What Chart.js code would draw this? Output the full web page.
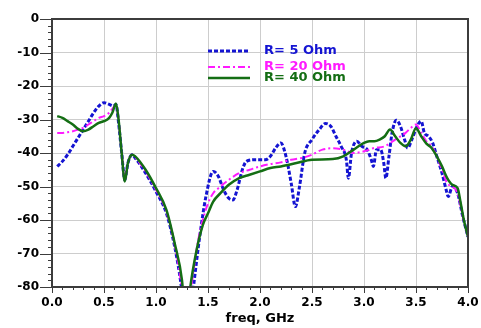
<!DOCTYPE html>
<html>
<head>
<meta charset="utf-8">
<script src="https://cdn.jsdelivr.net/npm/chart.js@4"></script>
<style>
  html, body { margin: 0; padding: 0; background: #fff; }
  #wrap { width: 481px; height: 328px; position: relative; }
</style>
</head>
<body>
<div id="wrap"><canvas id="chart"></canvas></div>
<script>
// values (freq in GHz, response in dB)
const freqR5 = [0.05, 0.1, 0.15, 0.2, 0.25, 0.3, 0.35, 0.4, 0.45, 0.5, 0.55, 0.59, 0.615, 0.64, 0.67, 0.7, 0.73, 0.77, 0.8, 0.9, 1.0, 1.1, 1.18, 1.24, 1.3, 1.36, 1.42, 1.48, 1.55, 1.6, 1.65, 1.7, 1.74, 1.78, 1.83, 1.87, 1.95, 2.05, 2.1, 2.15, 2.2, 2.25, 2.3, 2.34, 2.38, 2.43, 2.5, 2.57, 2.63, 2.68, 2.73, 2.78, 2.83, 2.85, 2.88, 2.93, 2.98, 3.03, 3.07, 3.09, 3.12, 3.16, 3.19, 3.21, 3.24, 3.27, 3.31, 3.35, 3.39, 3.42, 3.46, 3.51, 3.55, 3.58, 3.62, 3.66, 3.7, 3.75, 3.79, 3.81, 3.85, 3.9, 3.95, 4.0];
const lossR5 = [-44, -42.5, -40.5, -38, -35.5, -33, -30.5, -28, -26, -25, -25.5, -26, -25.5, -31, -40, -48, -43, -40.5, -41.5, -46, -51.5, -58, -68, -79, -95, -80, -65, -53, -45.5, -47, -51, -53.5, -54, -51, -45, -42.5, -42, -42, -41, -38.5, -37, -41, -49, -56, -50, -40, -36, -33, -31.2, -32, -35, -38, -42, -47.5, -40, -36.5, -38, -39, -42, -44, -39, -39, -43, -47.5, -41, -34, -30.2, -32, -36, -38.5, -36, -32, -30.5, -34, -35, -37, -41, -46, -51, -53, -50, -52, -59, -65];

const freqR20 = [0.05, 0.1, 0.15, 0.2, 0.25, 0.3, 0.35, 0.4, 0.45, 0.5, 0.55, 0.6, 0.615, 0.64, 0.67, 0.7, 0.73, 0.77, 0.8, 0.9, 1.0, 1.1, 1.18, 1.24, 1.29, 1.34, 1.4, 1.45, 1.5, 1.55, 1.6, 1.7, 1.8, 1.9, 2.0, 2.1, 2.2, 2.3, 2.4, 2.5, 2.6, 2.7, 2.8, 2.9, 3.0, 3.1, 3.2, 3.3, 3.4, 3.45, 3.5, 3.55, 3.6, 3.65, 3.7, 3.75, 3.8, 3.85, 3.9, 3.95, 4.0];
const lossR20 = [-34, -34, -33.8, -33.5, -33, -32.5, -31.5, -30.5, -29.5, -29, -28, -26, -25.5, -30, -40, -48, -43, -40.5, -41.3, -45.5, -51, -57.5, -67.5, -78.5, -93, -80, -67, -60, -55, -52, -50.5, -48, -46, -45, -44, -43.3, -42.8, -42, -41.5, -40.5, -39, -38.6, -39, -40, -39.5, -38.5, -38, -36, -34, -32.5, -31.5, -34, -36.5, -38, -41, -45, -49, -50, -52, -59, -65];

const freqR40 = [0.05, 0.1, 0.15, 0.2, 0.25, 0.3, 0.35, 0.4, 0.45, 0.5, 0.55, 0.58, 0.615, 0.64, 0.67, 0.7, 0.73, 0.77, 0.8, 0.9, 1.0, 1.1, 1.18, 1.25, 1.29, 1.33, 1.39, 1.45, 1.5, 1.55, 1.62, 1.7, 1.8, 1.9, 2.0, 2.1, 2.2, 2.35, 2.5, 2.7, 2.8, 2.9, 3.0, 3.05, 3.1, 3.15, 3.2, 3.25, 3.3, 3.35, 3.4, 3.45, 3.5, 3.55, 3.6, 3.65, 3.7, 3.75, 3.8, 3.85, 3.9, 3.93, 3.96, 4.0];
const lossR40 = [-29, -29.5, -30.5, -31.5, -32.8, -33.5, -33, -32, -31, -30.5, -29.5, -28, -25.2, -30, -40, -48.5, -43, -40.5, -41, -45, -50.5, -57, -67, -78, -92, -80, -69, -61.5, -58, -54.5, -52, -49.5, -47.5, -46.5, -45.5, -44.5, -44, -43, -42, -41.8, -41, -39, -37, -36.5, -36.5, -36, -35, -33, -35, -37, -38, -36, -32.6, -35, -37.2, -38.5, -41, -44, -47.5, -49.5, -50.5, -55, -60, -65];

const seriesLabels = ["R= 5 Ohm", "R= 20 Ohm", "R= 40 Ohm"];
const yTicks = [0, -10, -20, -30, -40, -50, -60, -70, -80];
const xTicks = [0, 0.5, 1, 1.5, 2, 2.5, 3, 3.5, 4];

const BLUE = "#1414d2";
const MAGENTA = "#ff1aff";
const GREEN = "#146e14";
const FONT = "DejaVu Sans";

const toPoints = (xs, ys) => xs.map((x, i) => ({ x: x, y: ys[i] }));

// frame, outward tick marks and the inset legend
const decorations = {
    id: "decorations",
    afterDatasetsDraw(chart) {
        const { ctx, chartArea: a, scales } = chart;
        const xs = scales.x, ys = scales.y;
        ctx.save();
        ctx.strokeStyle = "#3c3c3c";
        ctx.lineWidth = 1;
        for (let v = -80; v <= 0; v += 2) {
            const py = Math.round(ys.getPixelForValue(v)) + 0.5;
            const len = v % 10 === 0 ? 12 : 4;
            ctx.beginPath();
            ctx.moveTo(a.left - len, py);
            ctx.lineTo(a.left, py);
            ctx.stroke();
        }
        for (let k = 0; k <= 40; k++) {
            const px = Math.round(xs.getPixelForValue(k / 10)) + 0.5;
            const len = k % 5 === 0 ? 6 : 3;
            ctx.beginPath();
            ctx.moveTo(px, a.bottom);
            ctx.lineTo(px, a.bottom + len);
            ctx.stroke();
        }
        ctx.lineWidth = 2;
        ctx.strokeRect(a.left, a.top, a.right - a.left, a.bottom - a.top);

        // legend
        const rows = [
            { y: 51, color: BLUE, dash: [4, 2], width: 3, text: seriesLabels[0] },
            { y: 67, color: MAGENTA, dash: [7, 3, 2, 3], width: 2, text: seriesLabels[1] },
            { y: 78, color: GREEN, dash: [], width: 2.5, text: seriesLabels[2] },
        ];
        ctx.font = "bold 13px " + FONT;
        ctx.textBaseline = "middle";
        rows.forEach((r) => {
            ctx.setLineDash(r.dash);
            ctx.strokeStyle = r.color;
            ctx.lineWidth = r.width;
            ctx.beginPath();
            ctx.moveTo(208, r.y);
            ctx.lineTo(250, r.y);
            ctx.stroke();
            ctx.setLineDash([]);
            ctx.fillStyle = r.color;
            ctx.fillText(r.text, 264, r.y);
        });
        ctx.restore();
    },
};

new Chart(document.getElementById("chart"), {
    type: "line",
    data: {
        datasets: [
            {
                label: seriesLabels[0],
                data: toPoints(freqR5, lossR5),
                borderColor: BLUE,
                borderWidth: 3,
                borderDash: [4, 2],
                order: 2,
            },
            {
                label: seriesLabels[1],
                data: toPoints(freqR20, lossR20),
                borderColor: MAGENTA,
                borderWidth: 2,
                borderDash: [7, 3, 2, 3],
                order: 1,
            },
            {
                label: seriesLabels[2],
                data: toPoints(freqR40, lossR40),
                borderColor: GREEN,
                borderWidth: 2.5,
                order: 0,
            },
        ],
    },
    options: {
        responsive: true,
        maintainAspectRatio: false,
        animation: false,
        elements: {
            point: { radius: 0 },
            line: { cubicInterpolationMode: "monotone", fill: false },
        },
        datasets: { line: { clip: 0 } },
        layout: { padding: { top: 19, right: 13, left: 0, bottom: 0 } },
        plugins: {
            legend: { display: false },
            tooltip: { enabled: false },
        },
        scales: {
            x: {
                type: "linear",
                min: 0,
                max: 4,
                afterBuildTicks: (s) => { s.ticks = xTicks.map((v) => ({ value: v })); },
                afterFit: (s) => {
                    s.height = 41;
                    s.paddingLeft = 0;
                    s.paddingRight = 0;
                },
                grid: { color: "#cdcdcd", lineWidth: 1, drawTicks: false },
                border: { display: false },
                ticks: {
                    padding: 9,
                    color: "#000",
                    font: { family: FONT, size: 12, weight: "bold" },
                    maxRotation: 0,
                    callback: (v) => Number(v).toFixed(1),
                },
                title: {
                    display: true,
                    text: "freq, GHz",
                    color: "#000",
                    padding: { top: 0, bottom: 2 },
                    font: { family: FONT, size: 13, weight: "bold" },
                },
            },
            y: {
                min: -80,
                max: 0,
                afterBuildTicks: (s) => { s.ticks = yTicks.map((v) => ({ value: v })); },
                afterFit: (s) => {
                    s.width = 52;
                    s.paddingTop = 0;
                    s.paddingBottom = 0;
                },
                grid: { color: "#cdcdcd", lineWidth: 1, drawTicks: false },
                border: { display: false },
                ticks: {
                    padding: 13,
                    color: "#000",
                    font: { family: FONT, size: 12, weight: "bold" },
                },
            },
        },
    },
    plugins: [decorations],
});
</script>
</body>
</html>
